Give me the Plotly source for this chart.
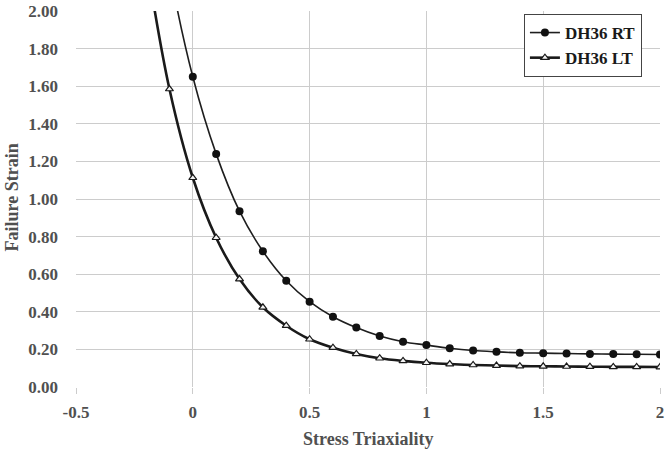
import plotly.graph_objects as go

# Data
rt_x = [-0.2, -0.1, 0.0, 0.1, 0.2, 0.3, 0.4, 0.5, 0.6, 0.7, 0.8, 0.9, 1.0,
        1.1, 1.2, 1.3, 1.4, 1.5, 1.6, 1.7, 1.8, 1.9, 2.0]
rt_y = [3.00, 2.22, 1.65, 1.24, 0.935, 0.722, 0.565, 0.454, 0.374, 0.316, 0.271, 0.241, 0.223,
        0.206, 0.194, 0.187, 0.182, 0.180, 0.178, 0.176, 0.175, 0.174, 0.173]

lt_x = [-0.2, -0.1, 0.0, 0.1, 0.2, 0.3, 0.4, 0.5, 0.6, 0.7, 0.8, 0.9, 1.0,
        1.1, 1.2, 1.3, 1.4, 1.5, 1.6, 1.7, 1.8, 1.9, 2.0]
lt_y = [2.28, 1.585, 1.113, 0.794, 0.574, 0.424, 0.326, 0.254, 0.209, 0.176, 0.153, 0.139, 0.129,
        0.122, 0.117, 0.114, 0.111, 0.110, 0.109, 0.108, 0.107, 0.107, 0.106]

x_ticks = [-0.5, 0, 0.5, 1, 1.5, 2]
x_tick_labels = ["-0.5", "0", "0.5", "1", "1.5", "2"]
y_ticks = [0, 0.2, 0.4, 0.6, 0.8, 1.0, 1.2, 1.4, 1.6, 1.8, 2.0]

x_title = "Stress Triaxiality"
y_title = "Failure Strain"

serif = "Liberation Serif, Times New Roman, serif"

fig = go.Figure()
fig.add_trace(go.Scatter(
    x=rt_x, y=rt_y, name="<b>DH36 RT</b>", mode="lines+markers",
    line=dict(color="#1e1e1e", width=1.6, shape="spline", smoothing=1.0),
    marker=dict(symbol="circle", size=8, color="#111111"),
    cliponaxis=True,
))
fig.add_trace(go.Scatter(
    x=lt_x, y=lt_y, name="<b>DH36 LT</b>", mode="lines+markers",
    line=dict(color="#1a1a1a", width=2.6, shape="spline", smoothing=1.0),
    marker=dict(symbol="triangle-up", size=7, color="#f4f4f4",
                line=dict(color="#1a1a1a", width=1.2)),
    cliponaxis=True,
))

fig.update_layout(
    width=669, height=452,
    margin=dict(l=76, r=9, t=11, b=65),
    paper_bgcolor="white", plot_bgcolor="white",
    font=dict(family=serif, size=17, color="#505050"),
    showlegend=True,
    legend=dict(
        x=0.767, y=0.992, xanchor="left", yanchor="top",
        bgcolor="white", bordercolor="#444444", borderwidth=1,
        font=dict(family=serif, size=17, color="#1a1a1a"),
        tracegroupgap=0, itemwidth=30,
    ),
    xaxis=dict(
        range=[-0.5, 2], tickvals=x_ticks, ticktext=x_tick_labels,
        showgrid=True, gridcolor="#cccccc", gridwidth=1.2,
        zeroline=False, showline=False, automargin=False,
        ticks="outside", ticklen=6, tickcolor="#cccccc", tickwidth=1.2,
        ticklabelstandoff=4,
        tickfont=dict(family=serif, size=17, color="#505050", weight="bold"),
    ),
    yaxis=dict(
        range=[0, 2], tickvals=y_ticks, tickformat=".2f",
        showgrid=True, gridcolor="#cccccc", gridwidth=1.2,
        zeroline=False, showline=False, ticks="", ticklabelstandoff=17,
        automargin=False,
        tickfont=dict(family=serif, size=17, color="#505050", weight="bold"),
    ),
    annotations=[
        dict(text="<b>" + x_title + "</b>", xref="paper", yref="paper",
             x=0.5, y=-0.139, xanchor="center", yanchor="middle", showarrow=False,
             font=dict(family=serif, size=18, color="#505050")),
        dict(text="<b>" + y_title + "</b>", xref="paper", yref="paper",
             x=-0.109, y=0.505, xanchor="center", yanchor="middle", showarrow=False,
             textangle=-90, font=dict(family=serif, size=18, color="#505050")),
    ],
)

fig.write_html("out.html")
